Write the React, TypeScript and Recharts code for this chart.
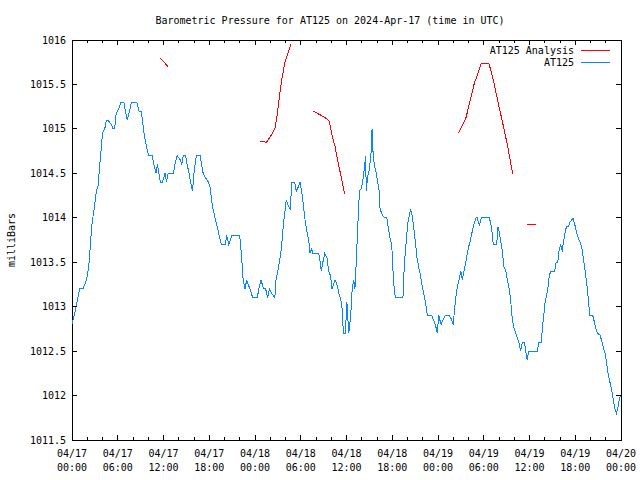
import { LineChart, Line, XAxis, YAxis, ReferenceArea } from "recharts";

// hours since 04/17 00:00 UTC and pressure readings (mb) for the station
const stationHours = [
  0, 0.55, 1.0, 1.45, 1.9, 2.1, 2.25, 2.45, 2.65, 2.9, 3.2, 3.4, 3.6, 3.85, 4.0, 4.3, 4.5, 4.7,
  5.15, 5.4, 5.6, 5.75, 5.95, 6.25, 6.4, 6.8, 7.0, 7.25, 7.55, 7.8, 8.5, 8.8, 9.1, 9.3, 9.45,
  9.65, 9.9, 10.05, 10.5, 10.75, 11.0, 11.2, 11.4, 11.6, 11.85, 12.2, 12.4, 12.6, 13.3, 13.5,
  13.8, 14.2, 14.4, 14.6, 14.9, 15.1, 15.35, 15.55, 15.8, 16.0, 16.3, 16.8, 17.0, 17.2, 17.5,
  17.9, 18.1, 18.3, 18.5, 18.75, 19.05, 19.3, 19.6, 20.1, 20.3, 20.55, 20.95, 22.0, 22.25,
  22.45, 22.7, 22.9, 23.1, 23.35, 23.7, 24.3, 24.5, 24.8, 25.1, 25.4, 25.65, 25.9, 26.2, 26.6,
  26.75, 27.0, 27.2, 27.45, 27.6, 27.75, 27.9, 28.1, 28.3, 28.6, 28.85, 29.2, 29.4, 29.7, 29.9,
  30.2, 30.4, 30.6, 30.8, 31.05, 31.2, 31.4, 31.6, 32.35, 32.55, 32.7, 32.9, 33.15, 33.45,
  33.65, 33.9, 34.1, 34.3, 34.5, 34.75, 35.0, 35.2, 35.4, 35.6, 35.85, 36.05, 36.3, 36.55,
  36.75, 36.95, 37.1, 37.2, 37.35, 37.5, 37.7, 37.95, 38.2, 38.4, 38.5, 38.6, 38.75, 39.0,
  39.2, 39.3, 39.35, 39.5, 39.7, 39.9, 40.1, 40.25, 40.4, 40.7, 41.0, 41.3, 41.45, 41.65,
  41.9, 42.0, 42.1, 42.3, 42.45, 43.4, 43.6, 43.85, 44.05, 44.3, 44.4, 44.6, 44.8, 45.0,
  45.25, 45.45, 45.7, 46.0, 46.35, 46.6, 46.9, 47.2, 47.5, 47.8, 47.9, 48.1, 48.4, 48.65,
  48.95, 49.45, 49.75, 50.0, 50.2, 50.4, 50.6, 50.75, 51.0, 51.2, 51.4, 51.65, 51.95, 52.2,
  52.5, 52.7, 53.0, 53.15, 53.3, 53.45, 53.7, 54.7, 54.9, 55.1, 55.25, 55.7, 55.85, 56.0,
  56.2, 56.4, 56.65, 56.9, 57.1, 57.35, 57.55, 57.75, 58.0, 58.2, 58.4, 58.6, 58.85, 59.05,
  59.35, 59.5, 59.7, 59.9, 61.0, 61.25, 61.55, 61.7, 61.9, 62.05, 62.25, 62.4, 62.6, 62.8,
  63.3, 63.5, 63.7, 63.9, 64.1, 64.3, 64.4, 64.65, 64.85, 65.1, 65.3, 65.5, 65.7, 65.95,
  66.2, 66.4, 66.6, 66.85, 67.05, 67.3, 67.5, 67.7, 67.9, 68.3, 68.5, 68.7, 68.9, 69.25,
  69.45, 69.65, 69.9, 70.1, 70.3, 70.55, 70.75, 70.95, 71.15, 71.4, 71.6, 71.8, 72,
];
const stationMb = [
  1012.8, 1013.0, 1013.2, 1013.2, 1013.3, 1013.4, 1013.5, 1013.75, 1013.95, 1014.1, 1014.3,
  1014.35, 1014.55, 1014.8, 1014.95, 1015.0, 1015.1, 1015.1, 1015.05, 1015.0, 1015.0, 1015.15,
  1015.2, 1015.25, 1015.3, 1015.3, 1015.2, 1015.1, 1015.2, 1015.3, 1015.3, 1015.2, 1015.2,
  1015.05, 1014.95, 1014.85, 1014.75, 1014.7, 1014.7, 1014.6, 1014.5, 1014.6, 1014.5, 1014.4,
  1014.4, 1014.5, 1014.4, 1014.5, 1014.5, 1014.6, 1014.7, 1014.65, 1014.6, 1014.7, 1014.7,
  1014.6, 1014.5, 1014.4, 1014.3, 1014.5, 1014.7, 1014.7, 1014.6, 1014.5, 1014.45, 1014.4,
  1014.35, 1014.2, 1014.1, 1014.0, 1013.9, 1013.8, 1013.7, 1013.7, 1013.8, 1013.7, 1013.8,
  1013.8, 1013.55, 1013.3, 1013.2, 1013.3, 1013.25, 1013.2, 1013.1, 1013.1, 1013.2, 1013.3,
  1013.2, 1013.2, 1013.1, 1013.2, 1013.15, 1013.1, 1013.3, 1013.4, 1013.5, 1013.65, 1013.8,
  1013.95, 1014.05, 1014.2, 1014.15, 1014.1, 1014.4, 1014.4, 1014.3, 1014.35, 1014.4, 1014.25,
  1014.1, 1013.95, 1013.85, 1013.75, 1013.6, 1013.65, 1013.6, 1013.6, 1013.5, 1013.4, 1013.5,
  1013.6, 1013.55, 1013.4, 1013.35, 1013.2, 1013.25, 1013.3, 1013.25, 1013.15, 1013.1, 1013.0,
  1012.7, 1012.7, 1013.05, 1012.7, 1012.9, 1013.2, 1013.3, 1013.2, 1013.35, 1013.65, 1013.95,
  1014.3, 1014.33, 1014.45, 1014.6, 1014.7, 1014.3, 1014.45, 1014.55, 1014.7, 1014.9, 1015.0,
  1014.7, 1014.57, 1014.5, 1014.4, 1014.33, 1014.1, 1014.03, 1014.0, 1014.0, 1013.9, 1013.8,
  1013.7, 1013.6, 1013.4, 1013.15, 1013.1, 1013.1, 1013.5, 1013.75, 1013.95, 1014.05, 1014.1,
  1014.03, 1013.9, 1013.75, 1013.55, 1013.45, 1013.35, 1013.2, 1013.05, 1012.9, 1012.9, 1012.9,
  1012.83, 1012.75, 1012.7, 1012.9, 1012.8, 1012.85, 1012.9, 1012.9, 1012.86, 1012.8, 1013.0,
  1013.15, 1013.25, 1013.3, 1013.4, 1013.3, 1013.4, 1013.5, 1013.65, 1013.73, 1013.85, 1013.92,
  1014.0, 1014.0, 1013.95, 1013.92, 1014.0, 1014.0, 1013.95, 1013.83, 1013.7, 1013.7, 1013.9,
  1013.85, 1013.75, 1013.65, 1013.45, 1013.4, 1013.3, 1013.2, 1013.05, 1012.85, 1012.75,
  1012.7, 1012.65, 1012.6, 1012.5, 1012.6, 1012.6, 1012.5, 1012.4, 1012.5, 1012.5, 1012.6,
  1012.6, 1012.77, 1012.93, 1013.05, 1013.13, 1013.2, 1013.35, 1013.4, 1013.4, 1013.5, 1013.5,
  1013.65, 1013.7, 1013.62, 1013.7, 1013.83, 1013.9, 1013.9, 1013.95, 1013.97, 1014.0, 1013.92,
  1013.83, 1013.77, 1013.73, 1013.67, 1013.55, 1013.4, 1013.27, 1013.1, 1012.9, 1012.9,
  1012.83, 1012.75, 1012.7, 1012.68, 1012.62, 1012.55, 1012.48, 1012.37, 1012.25, 1012.15,
  1012.07, 1011.97, 1011.87, 1011.8, 1011.87, 1011.97, 1012.0,
];

// analysis: separate runs, null marks a gap
const analysisHours = [
  11.55, 12.6, 18,
  24.6, 25.5, 26.0, 26.6, 26.85, 27.2, 27.5, 27.9, 28.4, 28.7, 30,
  31.65, 32.5, 33.5, 33.75, 34.05, 34.5, 34.9, 35.4, 35.75, 45,
  50.65, 51.65, 52.2, 52.75, 53.3, 53.7, 54.7, 55.25, 55.9, 56.6, 57.15, 57.55, 57.8, 59,
  59.7, 60.8,
];
const analysisMb = [
  1015.8, 1015.7, null,
  1014.86, 1014.85, 1014.91, 1015.0, 1015.12, 1015.36, 1015.55, 1015.74, 1015.87, 1015.95, null,
  1015.2, 1015.16, 1015.11, 1015.08, 1014.95, 1014.8, 1014.62, 1014.42, 1014.27, null,
  1014.95, 1015.12, 1015.31, 1015.51, 1015.64, 1015.74, 1015.73, 1015.55, 1015.29, 1015.02,
  1014.8, 1014.61, 1014.49, null,
  1013.93, 1013.93,
];

const xTicks = [
  0, 2, 4, 6, 8, 10, 12, 14, 16, 18, 20, 22, 24, 26, 28, 30, 32, 34, 36, 38, 40, 42, 44, 46,
  48, 50, 52, 54, 56, 58, 60, 62, 64, 66, 68, 70, 72,
];
const yTicks = [1011.5, 1012, 1012.5, 1013, 1013.5, 1014, 1014.5, 1015, 1015.5, 1016];

const series = [
  { name: "AT125 Analysis", color: "#ff0000" },
  { name: "AT125", color: "#0a84ff" },
];

const FONT = "'DejaVu Sans Mono', 'Liberation Mono', monospace";
const TOP = 40;
const RIGHT = 621;

const stationData = stationHours.map((t, i) => ({ t, mb: stationMb[i] }));
const analysisData = analysisHours.map((t, i) => ({ t, mb: analysisMb[i] }));

const XTick = (props: any) => {
  const { x, y, payload } = props;
  const h = payload.value as number;
  const major = h % 6 === 0;
  const len = major ? 5 : 3;
  const day = 17 + Math.floor(h / 24);
  const hh = String(h % 24).padStart(2, "0");
  return (
    <g shapeRendering="crispEdges">
      <line x1={x} y1={y} x2={x} y2={y - len} stroke="#000" />
      <line x1={x} y1={TOP} x2={x} y2={TOP + len} stroke="#000" />
      {major && (
        <text x={x} y={y + 17} textAnchor="middle" fontFamily={FONT} fontSize={10} fill="#000">
          <tspan x={x}>{`04/${day}`}</tspan>
          <tspan x={x} dy={13.5}>{`${hh}:00`}</tspan>
        </text>
      )}
    </g>
  );
};

const YTick = (props: any) => {
  const { x, y, payload } = props;
  return (
    <g shapeRendering="crispEdges">
      <line x1={x} y1={y} x2={x + 5} y2={y} stroke="#000" />
      <line x1={RIGHT} y1={y} x2={RIGHT - 5} y2={y} stroke="#000" />
      <text x={x - 6} y={y + 3.5} textAnchor="end" fontFamily={FONT} fontSize={10} fill="#000">
        {String(payload.value)}
      </text>
    </g>
  );
};

export default function App() {
  return (
    <div style={{ position: "absolute", left: 0, top: 0, width: 640, height: 480, background: "#fff" }}>
      <LineChart width={640} height={480} margin={{ top: TOP, right: 640 - RIGHT, left: 0, bottom: 0 }}>
        <XAxis
          dataKey="t"
          type="number"
          domain={[0, 72]}
          ticks={xTicks}
          interval={0}
          tick={<XTick />}
          tickSize={0}
          tickMargin={0}
          height={40}
          axisLine={false}
          allowDataOverflow
        />
        <YAxis
          type="number"
          domain={[1011.5, 1016]}
          ticks={yTicks}
          interval={0}
          tick={<YTick />}
          tickSize={0}
          tickMargin={0}
          width={72}
          axisLine={false}
          allowDataOverflow
        />
        <ReferenceArea
          x1={0}
          x2={72}
          y1={1011.5}
          y2={1016}
          fill="none"
          stroke="#000"
          strokeWidth={1}
          shapeRendering="crispEdges"
          ifOverflow="visible"
        />
        <Line
          data={analysisData}
          dataKey="mb"
          name={series[0].name}
          stroke={series[0].color}
          strokeWidth={1}
          shapeRendering="crispEdges"
          dot={false}
          activeDot={false}
          isAnimationActive={false}
          type="linear"
        />
        <Line
          data={stationData}
          dataKey="mb"
          name={series[1].name}
          stroke={series[1].color}
          strokeWidth={1}
          shapeRendering="crispEdges"
          dot={false}
          activeDot={false}
          isAnimationActive={false}
          type="linear"
        />
      </LineChart>
      <svg width={640} height={480} style={{ position: "absolute", left: 0, top: 0, pointerEvents: "none" }}>
        <text x={330} y={23.5} textAnchor="middle" fontFamily={FONT} fontSize={10} fill="#000">
          Barometric Pressure for AT125 on 2024-Apr-17 (time in UTC)
        </text>
        <text
          x={15}
          y={240}
          textAnchor="middle"
          transform="rotate(-90 15 240)"
          fontFamily={FONT}
          fontSize={10}
          fill="#000"
        >
          milliBars
        </text>
        {series.map((s, i) => (
          <g key={s.name}>
            <text x={574} y={53.5 + i * 12.5} textAnchor="end" fontFamily={FONT} fontSize={10} fill="#000">
              {s.name}
            </text>
            <line
              x1={581}
              y1={50 + i * 12.5}
              x2={610}
              y2={50 + i * 12.5}
              stroke={s.color}
              strokeWidth={1}
              shapeRendering="crispEdges"
            />
          </g>
        ))}
      </svg>
    </div>
  );
}
